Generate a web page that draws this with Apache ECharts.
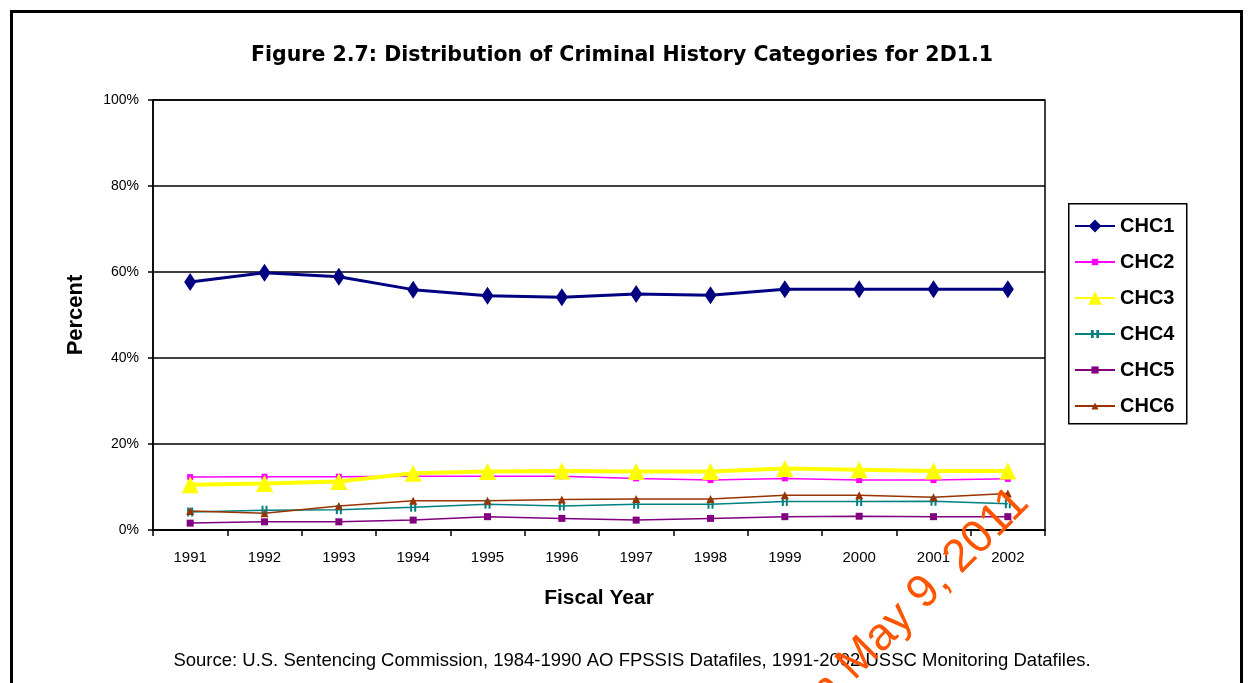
<!DOCTYPE html>
<html lang="en">
<head>
    <meta charset="UTF-8">
    <title>Figure 2.7: Distribution of Criminal History Categories for 2D1.1</title>
    <script src="https://cdnjs.cloudflare.com/ajax/libs/echarts/6.0.0/echarts.min.js"></script>
    <style>
        body { margin: 0; padding: 0; background: #fff; }
        #main { width: 1249px; height: 683px; }
    </style>
</head>
<body>
    <div id="main"></div>
    <script>
        // fiscal years on the x axis
        const years = ['1991','1992','1993','1994','1995','1996','1997','1998','1999','2000','2001','2002'];
        // percent of cases per criminal history category
        const chc1 = [57.7, 59.8, 58.9, 55.9, 54.5, 54.1, 54.9, 54.6, 56.0, 56.0, 56.0, 56.0];
        const chc2 = [12.3, 12.4, 12.4, 12.5, 12.5, 12.5, 12.0, 11.6, 12.0, 11.6, 11.6, 11.9];
        const chc3 = [10.5, 10.8, 11.3, 13.2, 13.6, 13.7, 13.6, 13.6, 14.3, 14.0, 13.7, 13.7];
        const chc4 = [4.2, 4.6, 4.7, 5.3, 6.0, 5.6, 6.0, 6.0, 6.6, 6.6, 6.7, 6.1];
        const chc5 = [1.6, 1.9, 1.9, 2.3, 3.1, 2.7, 2.3, 2.7, 3.1, 3.2, 3.1, 3.1];
        const chc6 = [4.4, 3.9, 5.6, 6.8, 6.8, 7.1, 7.2, 7.2, 8.1, 8.1, 7.6, 8.5];
        const names = ['CHC1','CHC2','CHC3','CHC4','CHC5','CHC6'];
        const yTicks = [0, 20, 40, 60, 80, 100];

        const font = 'Arial, "Liberation Sans", sans-serif';
        const chart = echarts.init(document.getElementById('main'));

        function line(name, data, color, width, symbol, size) {
            return {
                name: name, type: 'line', data: data,
                symbol: symbol, symbolSize: size, showSymbol: true,
                lineStyle: { color: color, width: width },
                itemStyle: { color: color },
                emphasis: { disabled: true },
                animation: false
            };
        }
        const bars = 'path://M0,0 L2,0 L2,10 L0,10 Z M4,0 L6,0 L6,10 L4,10 Z';

        // one legend per row so each marker can have its own size, like the original
        const iconH = [16, 8, 17, 10, 9, 9];
        const legends = names.map((n, i) => ({
            orient: 'vertical', left: 1074, top: 216 + 36 * i,
            data: [n], padding: 0,
            itemWidth: 40, itemHeight: iconH[i],
            textStyle: { fontFamily: font, fontSize: 20, fontWeight: 'bold', color: '#000' }
        }));

        chart.setOption({
            backgroundColor: '#fff',
            title: {
                text: 'Figure 2.7: Distribution of Criminal History Categories for 2D1.1',
                left: 617, top: 40, textAlign: 'center',
                textStyle: { fontFamily: '"DejaVu Sans", sans-serif', fontSize: 20.5, fontWeight: 'bold', color: '#000' }
            },
            grid: {
                left: 153, right: 204, top: 100, bottom: 153,
                show: true, borderColor: '#000', borderWidth: 1.5, backgroundColor: 'transparent'
            },
            legend: legends,
            xAxis: {
                type: 'category', data: years, boundaryGap: true,
                name: 'Fiscal Year', nameLocation: 'middle', nameGap: 58,
                nameTextStyle: { fontFamily: font, fontSize: 21, fontWeight: 'bold', color: '#000' },
                axisLine: { lineStyle: { color: '#000', width: 1.5 } },
                axisTick: { show: true, length: 6, lineStyle: { color: '#000', width: 1.5 } },
                axisLabel: { fontFamily: font, fontSize: 15, color: '#000', margin: 20 }
            },
            yAxis: {
                type: 'value', min: yTicks[0], max: yTicks[yTicks.length - 1], interval: 20,
                name: 'Percent', nameLocation: 'middle', nameGap: 66, nameRotate: 90,
                nameTextStyle: { fontFamily: font, fontSize: 22, fontWeight: 'bold', color: '#000' },
                axisLine: { show: true, lineStyle: { color: '#000', width: 1.5 } },
                axisTick: { show: true, length: 5, lineStyle: { color: '#000', width: 1.5 } },
                axisLabel: { formatter: '{value}%', fontFamily: font, fontSize: 14, color: '#000', margin: 14 },
                splitLine: { lineStyle: { color: '#000', width: 1.5 } }
            },
            series: [
                line(names[0], chc1, '#000080', 3, 'diamond', [12, 18]),
                line(names[1], chc2, '#FF00FF', 1.5, 'rect', 6),
                line(names[2], chc3, '#FFFF00', 4, 'triangle', 17),
                line(names[3], chc4, '#008080', 1.5, bars, [6, 9]),
                line(names[4], chc5, '#800080', 1.5, 'rect', 7),
                line(names[5], chc6, '#993300', 1.5, 'triangle', 8)
            ],
            graphic: {
                elements: [
                    {
                        type: 'rect', left: 10, top: 10, silent: true,
                        shape: { width: 1230, height: 700 },
                        style: { fill: 'transparent', stroke: '#000', lineWidth: 3 }
                    },
                    {
                        type: 'rect', left: 1068, top: 203, silent: true,
                        shape: { width: 118, height: 220 },
                        style: { fill: 'transparent', stroke: '#000', lineWidth: 1.5 }
                    },
                    {
                        type: 'text', x: 632, y: 661, silent: true,
                        style: {
                            text: 'Source: U.S. Sentencing Commission, 1984-1990 AO FPSSIS Datafiles, 1991-2002 USSC Monitoring Datafiles.',
                            font: '18.5px Arial, "Liberation Sans", sans-serif', fill: '#000',
                            textAlign: 'center', textVerticalAlign: 'middle'
                        }
                    },
                    {
                        type: 'text', x: 1038, y: 512, rotation: 45 * Math.PI / 180, silent: true, z: 100,
                        style: {
                            text: 'on May 9, 2011',
                            font: '46px Arial, "Liberation Sans", sans-serif', fill: '#FF5500',
                            textAlign: 'right', textVerticalAlign: 'bottom'
                        }
                    }
                ]
            }
        });
    </script>
</body>
</html>
